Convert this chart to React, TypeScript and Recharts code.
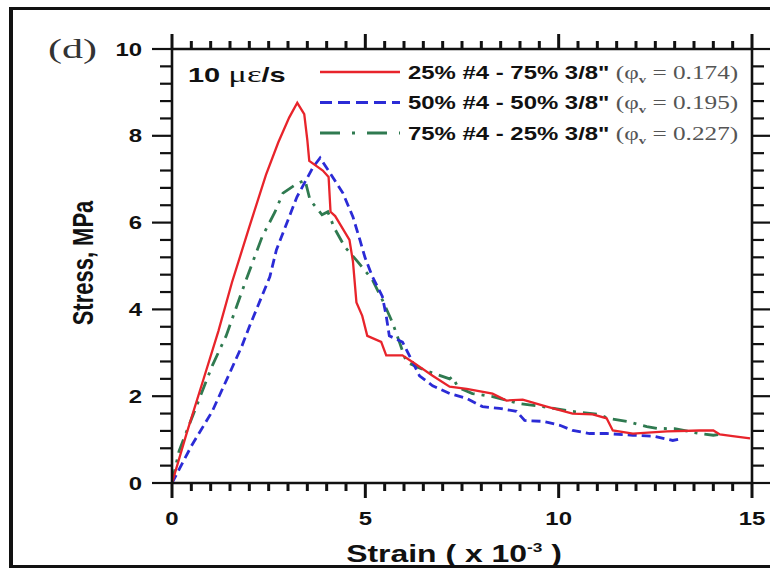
import React from 'react';
import { LineChart, Line, XAxis, YAxis } from 'recharts';

// strain (x 10^-3) vs stress (MPa)
const mix25_75: number[][] = [
  [0, 0], [0.38, 1.15], [0.8, 2.35], [1.2, 3.5], [1.55, 4.62], [2.0, 5.9], [2.43, 7.1], [2.75, 7.85],
  [3.03, 8.42], [3.24, 8.76], [3.42, 8.5], [3.5, 7.9], [3.55, 7.42], [3.9, 7.2], [4.05, 7.05], [4.1, 6.25],
  [4.22, 6.15], [4.59, 5.6], [4.68, 5.1], [4.77, 4.16], [4.92, 3.85], [5.05, 3.39], [5.41, 3.25],
  [5.54, 2.94], [5.96, 2.94], [6.22, 2.79], [6.74, 2.47], [7.18, 2.22], [7.62, 2.17], [8.29, 2.06],
  [8.65, 1.9], [9.07, 1.92], [9.69, 1.76], [10.36, 1.6], [10.88, 1.58], [11.24, 1.49], [11.4, 1.21],
  [11.92, 1.14], [12.8, 1.19], [13.65, 1.21], [14.0, 1.21], [14.17, 1.12], [14.5, 1.08], [14.95, 1.03],
];

const mix50_50: number[][] = [
  [0, 0], [0.5, 0.85], [1.04, 1.65], [1.5, 2.55], [1.81, 3.16], [2.0, 3.6], [2.53, 4.75], [2.7, 5.37],
  [2.87, 5.76], [3.23, 6.59], [3.65, 7.28], [3.83, 7.49], [4.09, 7.14], [4.42, 6.68], [4.68, 6.13],
  [4.86, 5.6], [4.99, 5.2], [5.18, 4.76], [5.44, 4.3], [5.54, 3.85], [5.62, 3.39], [5.96, 3.25],
  [6.22, 2.79], [6.4, 2.47], [6.74, 2.24], [7.18, 2.06], [7.62, 1.95], [8.03, 1.76], [8.47, 1.72],
  [8.91, 1.65], [9.12, 1.44], [9.59, 1.42], [10.03, 1.33], [10.36, 1.21], [10.8, 1.14], [11.24, 1.14],
  [11.92, 1.1], [12.44, 1.08], [12.95, 0.98], [13.2, 1.03],
];

const mix75_25: number[][] = [
  [0, 0], [0.18, 0.73], [0.44, 1.33], [1.04, 2.7], [1.4, 3.39], [1.92, 4.69], [2.33, 5.67], [2.66, 6.24],
  [2.87, 6.68], [3.2, 6.88], [3.44, 6.98], [3.57, 6.52], [3.88, 6.18], [4.03, 6.25], [4.2, 5.87],
  [4.47, 5.44], [4.8, 5.1], [5.18, 4.69], [5.45, 4.2], [5.7, 3.7], [5.9, 3.2], [6.06, 2.79], [6.4, 2.65],
  [6.66, 2.56], [7.18, 2.4], [7.25, 2.45], [7.4, 2.2], [7.77, 2.06], [8.29, 1.99], [8.99, 1.83], [9.59, 1.76],
  [10.36, 1.65], [11.06, 1.58], [11.27, 1.49], [11.76, 1.42], [12.28, 1.3], [12.54, 1.26], [13.0, 1.25],
  [13.65, 1.14], [14.0, 1.1], [14.2, 1.12],
];

const seriesNames = ['25% #4 - 75% 3/8"', '50% #4 - 50% 3/8"', '75% #4 - 25% 3/8"'];
const seriesPhi = ['0.174', '0.195', '0.227'];
const seriesColors = ['#e8242b', '#2b2bd6', '#2f7a50'];
const seriesDash = ['', '9 5', '14 7 3 7'];
const legendDash = ['', '12 6', '20 12 3 12'];

const xMajor = [0, 5, 10, 15];
const xTicks = [0, 0.5, 1, 1.5, 2, 2.5, 3, 3.5, 4, 4.5, 5, 5.5, 6, 6.5, 7, 7.5, 8, 8.5, 9, 9.5, 10,
  10.5, 11, 11.5, 12, 12.5, 13, 13.5, 14, 14.5, 15];
const yMajor = [0, 2, 4, 6, 8, 10];
const yTicks = [0, 0.4, 0.8, 1.2, 1.6, 2, 2.4, 2.8, 3.2, 3.6, 4, 4.4, 4.8, 5.2, 5.6, 6, 6.4, 6.8, 7.2,
  7.6, 8, 8.4, 8.8, 9.2, 9.6, 10];

const toPoints = (rows: number[][]) => rows.map(([x, y]) => ({ x, y }));
const seriesData = [mix25_75, mix50_50, mix75_25].map(toPoints);

const SX = 1.33;
const SANS = '"Liberation Sans", Arial, sans-serif';
const SERIF = '"Liberation Serif", "Times New Roman", serif';

const BottomTick = ({ x, y, payload }: any) => {
  const major = xMajor.includes(payload.value);
  return (
    <g>
      <line x1={x} y1={y} x2={x} y2={y + (major ? 15 : 8)} stroke="#111" strokeWidth={3} />
      {major && (
        <text transform={`translate(${x},${y + 42}) scale(${SX},1)`} textAnchor="middle"
          fontFamily={SANS} fontWeight={700} fontSize={18} fill="#111">{payload.value}</text>
      )}
    </g>
  );
};

const TopTick = ({ x, y, payload }: any) => {
  const major = xMajor.includes(payload.value);
  return <line x1={x} y1={y} x2={x} y2={y - (major ? 15 : 8)} stroke="#111" strokeWidth={3} />;
};

const LeftTick = ({ x, y, payload }: any) => {
  const major = yMajor.includes(payload.value);
  return (
    <g>
      <line x1={x} y1={y} x2={x - (major ? 20 : 12)} y2={y} stroke="#111" strokeWidth={2.2} />
      {major && (
        <text transform={`translate(${x - 30},${y + 6.5}) scale(${SX},1)`} textAnchor="end"
          fontFamily={SANS} fontWeight={700} fontSize={18} fill="#111">{payload.value}</text>
      )}
    </g>
  );
};

const RightTick = ({ x, y, payload }: any) => {
  const major = yMajor.includes(payload.value);
  return <line x1={x} y1={y} x2={x + (major ? 20 : 12)} y2={y} stroke="#111" strokeWidth={2.2} />;
};

const axisLine = { stroke: '#111', strokeWidth: 2.6 };

export default function App() {
  const order = [2, 1, 0];
  return (
    <div style={{ position: 'absolute', left: 0, top: 0, width: 770, height: 568, overflow: 'hidden', background: '#fff' }}>
      <div style={{
        position: 'absolute', left: 9, top: 7, width: 800, height: 561, boxSizing: 'border-box',
        borderTop: '3px solid #111', borderBottom: '3px solid #111', borderLeft: '4px solid #111',
      }} />
      <div style={{ position: 'absolute', left: 0, top: 0 }}>
        <LineChart width={770} height={568} margin={{ top: 48, right: 17, bottom: 84, left: 171 }}>
          <XAxis xAxisId="b" dataKey="x" type="number" domain={[0, 15]} ticks={xTicks} interval={0}
            height={1} tickSize={0} tickMargin={0} tickLine={false} axisLine={axisLine}
            tick={(p: any) => <BottomTick {...p} />} allowDataOverflow />
          <XAxis xAxisId="t" orientation="top" dataKey="x" type="number" domain={[0, 15]} ticks={xTicks}
            interval={0} height={1} tickSize={0} tickMargin={0} tickLine={false} axisLine={axisLine}
            tick={(p: any) => <TopTick {...p} />} allowDataOverflow />
          <YAxis yAxisId="l" type="number" domain={[0, 10]} ticks={yTicks} interval={0} width={1}
            tickSize={0} tickMargin={0} tickLine={false} axisLine={axisLine}
            tick={(p: any) => <LeftTick {...p} />} allowDataOverflow />
          <YAxis yAxisId="r" orientation="right" type="number" domain={[0, 10]} ticks={yTicks} interval={0}
            width={1} tickSize={0} tickMargin={0} tickLine={false} axisLine={axisLine}
            tick={(p: any) => <RightTick {...p} />} allowDataOverflow />
          {order.map((i) => (
            <Line key={i} xAxisId="b" yAxisId="l" data={seriesData[i]} dataKey="y" name={seriesNames[i]}
              type="linear" stroke={seriesColors[i]} strokeWidth={i === 0 ? 2.3 : 2.8}
              strokeDasharray={seriesDash[i] || undefined} dot={false} activeDot={false}
              isAnimationActive={false} />
          ))}
        </LineChart>
      </div>
      <svg width={770} height={568} style={{ position: 'absolute', left: 0, top: 0, pointerEvents: 'none' }}>
        <text transform="translate(48,58) scale(1.5,1)" fontFamily={SERIF} fontSize={28} fill="#333">(d)</text>
        <text transform="translate(93,263) rotate(-90) scale(1,1.3)" textAnchor="middle"
          fontFamily={SANS} fontWeight={700} fontSize={22} fill="#111">Stress, MPa</text>
        <text transform="translate(454,562) scale(1.33,1)" textAnchor="middle"
          fontFamily={SANS} fontWeight={700} fontSize={24} fill="#111">
          Strain ( x 10<tspan fontSize={13} dy={-10}>-3</tspan><tspan dy={10}> )</tspan>
        </text>
        <text transform="translate(188,82) scale(1.45,1)" fill="#111">
          <tspan fontFamily={SANS} fontWeight={700} fontSize={20}>10 </tspan>
          <tspan fontFamily={SERIF} fontSize={24}>με</tspan>
          <tspan fontFamily={SANS} fontWeight={700} fontSize={20}>/s</tspan>
        </text>
        {seriesNames.map((name, i) => {
          const cy = 72 + i * 30.5;
          return (
            <g key={name}>
              <line x1={320} x2={400} y1={cy} y2={cy} stroke={seriesColors[i]} strokeWidth={i === 0 ? 2.5 : 3}
                strokeDasharray={legendDash[i] || undefined} />
              <text transform={`translate(408,${cy + 6.5}) scale(${SX},1)`}>
                <tspan fontFamily={SANS} fontWeight={700} fontSize={18} fill="#111">{name}</tspan>
                <tspan fontFamily={SERIF} fontSize={19} fill="#555"> (φ</tspan>
                <tspan fontFamily={SERIF} fontSize={11} fontWeight={700} fill="#555" dy={4}>v</tspan>
                <tspan fontFamily={SERIF} fontSize={19} fill="#555" dy={-4}> = {seriesPhi[i]})</tspan>
              </text>
            </g>
          );
        })}
      </svg>
    </div>
  );
}
